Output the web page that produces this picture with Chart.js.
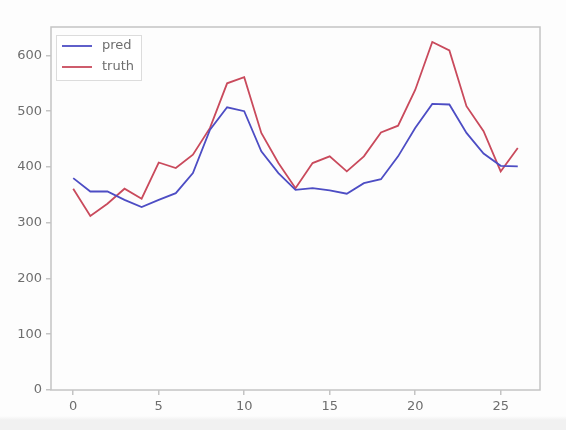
<!DOCTYPE html>
<html>
<head>
<meta charset="utf-8">
<script src="https://cdn.jsdelivr.net/npm/chart.js@4"></script>
<style>
  html, body { margin: 0; padding: 0; background: #fdfdfd; }
  #wrap { width: 566px; height: 430px; position: relative;
          background: linear-gradient(to bottom, #fdfdfd 0, #fdfdfd 416px, #f1f1f1 420px, #f1f1f1 430px); }
</style>
</head>
<body>
<div id="wrap"><canvas id="myChart"></canvas></div>
<script>
// valores
const xVals = [0,1,2,3,4,5,6,7,8,9,10,11,12,13,14,15,16,17,18,19,20,21,22,23,24,25,26];
const pred = [380,356,356,341,328,341,353,389,467,507,500,428,389,359,362,358,352,371,378,419,470,513,512,461,424,402,401];
const truth = [361,312,334,361,343,408,398,422,470,550,561,461,407,362,407,419,392,419,462,474,538,624,609,509,464,392,434];
const xTicks = [0,5,10,15,20,25];
const yTicks = [0,100,200,300,400,500,600];

const corTexto = '#6e6e6e';
const corEixo = '#c4c4c4';

function pontos(ys) {
  return xVals.map(function(x, i){ return {x: x, y: ys[i]}; });
}

// moldura em volta da area do grafico (estilo matplotlib)
const moldura = {
  id: 'moldura',
  afterDatasetsDraw(chart) {
    const a = chart.chartArea;
    const c = chart.ctx;
    c.save();
    c.strokeStyle = corEixo;
    c.lineWidth = 1.5;
    c.strokeRect(a.left, a.top, a.right - a.left, a.bottom - a.top);
    c.restore();
  }
};

// legenda dentro do grafico, canto superior esquerdo
const legendaDentro = {
  id: 'legendaDentro',
  afterDraw(chart) {
    const c = chart.ctx;
    const a = chart.chartArea;
    const x0 = a.left + 5, y0 = a.top + 8;
    c.save();
    c.fillStyle = 'rgba(255,255,255,0.85)';
    c.strokeStyle = '#dcdcdc';
    c.lineWidth = 1;
    c.fillRect(x0, y0, 85, 45);
    c.strokeRect(x0 + 0.5, y0 + 0.5, 85, 45);
    c.font = '13px "DejaVu Sans"';
    c.textBaseline = 'middle';
    chart.data.datasets.forEach(function(ds, i){
      const y = y0 + 11 + i * 21;
      c.strokeStyle = ds.borderColor;
      c.lineWidth = 1.8;
      c.beginPath();
      c.moveTo(x0 + 6, y);
      c.lineTo(x0 + 36, y);
      c.stroke();
      c.fillStyle = corTexto;
      c.fillText(ds.label, x0 + 46, y);
    });
    c.restore();
  }
};

const ctx = document.getElementById('myChart');
const grafico = new Chart(ctx, {
  type: 'line',
  data: {
    datasets: [{
      label: 'pred',
      data: pontos(pred),
      borderColor: '#4d4dc4',
      borderWidth: 1.8,
      pointRadius: 0,
      tension: 0,
      fill: false
    }, {
      label: 'truth',
      data: pontos(truth),
      borderColor: '#c94a5c',
      borderWidth: 1.8,
      pointRadius: 0,
      tension: 0,
      fill: false
    }]
  },
  options: {
    responsive: true,
    maintainAspectRatio: false,
    animation: false,
    layout: { padding: { left: 0, right: 26, top: 27, bottom: 0 } },
    plugins: {
      legend: { display: false },
      tooltip: { enabled: false }
    },
    scales: {
      x: {
        type: 'linear',
        min: -1.3,
        max: 27.3,
        afterBuildTicks: function(axis){ axis.ticks = xTicks.map(function(v){ return {value: v}; }); },
        afterFit: function(axis){ axis.height = 40; },
        grid: { drawOnChartArea: false, drawTicks: true, tickLength: 5, color: corEixo, lineWidth: 1.5 },
        border: { display: false },
        ticks: { color: corTexto, font: { family: 'DejaVu Sans', size: 13 }, padding: 4, maxRotation: 0 }
      },
      y: {
        min: 0,
        max: 651,
        afterBuildTicks: function(axis){ axis.ticks = yTicks.map(function(v){ return {value: v}; }); },
        afterFit: function(axis){ axis.width = 51; },
        grid: { drawOnChartArea: false, drawTicks: true, tickLength: 5, color: corEixo, lineWidth: 1.5 },
        border: { display: false },
        ticks: { color: corTexto, font: { family: 'DejaVu Sans', size: 13 }, padding: 4 }
      }
    }
  },
  plugins: [moldura, legendaDentro]
});
</script>
</body>
</html>
